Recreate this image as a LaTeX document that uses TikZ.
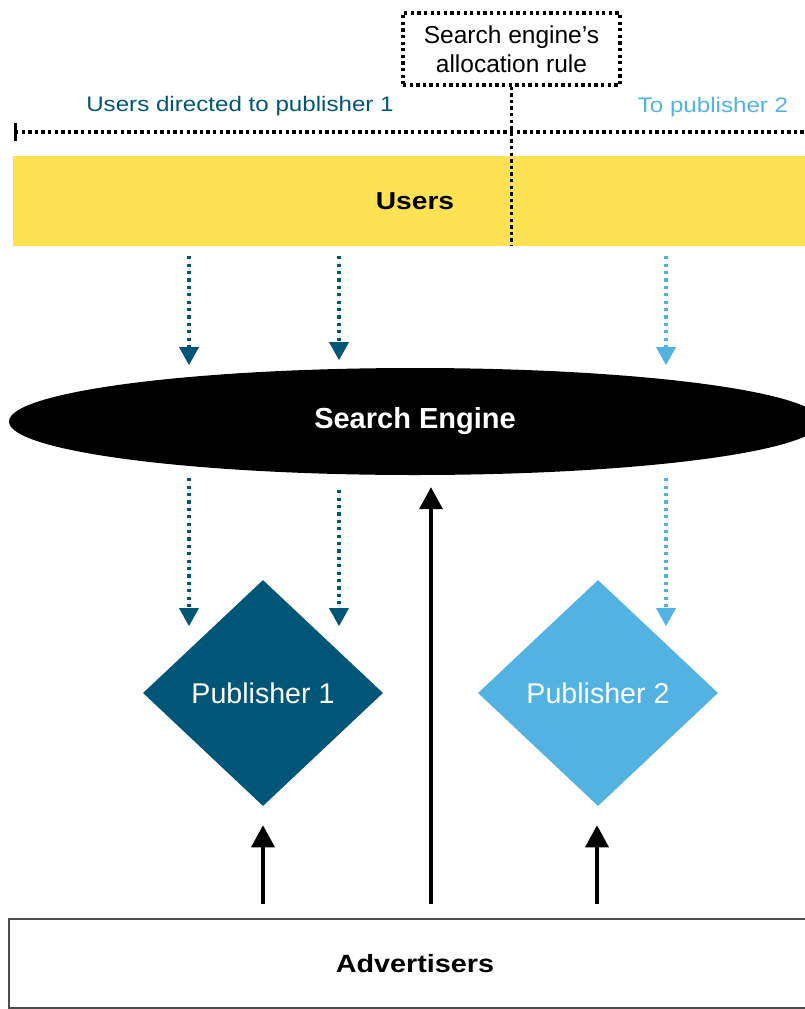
\documentclass[tikz,border=0pt]{standalone}
\usepackage{fontspec}
\setmainfont{Liberation Sans}
\newfontfamily\widefont{Liberation Sans}[FakeStretch=1.15]
\usetikzlibrary{shapes.geometric,arrows.meta}
\definecolor{pubone}{HTML}{005677}
\definecolor{pubtwo}{HTML}{52B3E2}
\definecolor{usersyellow}{HTML}{FFE254}
\begin{document}
\begin{tikzpicture}[x=1pt,y=-1pt,
  blackdot/.style={line width=3.3pt, dash pattern=on 3.3pt off 3.3pt},
  colordot/.style={line width=3.2pt, dash pattern=on 3.2pt off 4.2pt, -{Triangle[width=19pt,length=18pt]}},
  solidarrow/.style={line width=3.5pt, -{Triangle[width=23pt,length=22pt]}},
  pubshape/.style={diamond, minimum width=240pt, minimum height=226pt, inner sep=0pt, text=white, font=\fontsize{28.6}{32}\selectfont},
  bandbox/.style={rectangle, inner sep=0pt}
]
\useasboundingbox (0,0) rectangle (804,1009);

% allocation rule box
\node[draw, blackdot, minimum width=217pt, minimum height=72pt, inner sep=0pt, align=center,
      font=\fontsize{24.5}{29}\selectfont] (rule) at (511.5,49) {Search engine’s\\allocation rule};

% labels
\node[text=pubone, font=\widefont\fontsize{21}{24}\selectfont] (lab1) at (240,106) {Users directed to publisher 1};
\node[text=pubtwo, font=\widefont\fontsize{21}{24}\selectfont] (lab2) at (713,107) {To publisher 2};

% users band
\node[bandbox, fill=usersyellow, minimum width=804pt, minimum height=90pt,
      font=\widefont\bfseries\fontsize{24.5}{28}\selectfont] (users) at (415,201) {\raisebox{-3pt}{Users}};

% horizontal dotted line with tick
\coordinate (hl) at (15,132);
\draw[blackdot] (hl) -- (hl -| users.east);
\draw[line width=3pt] (hl) ++(0,-9) -- ++(0,18);

% vertical dotted line
\draw[blackdot] (rule.south) -- (users.south -| rule.south);

% search engine
\node[ellipse, fill=black, minimum width=812pt, minimum height=107pt, inner sep=0pt,
      text=white, font=\bfseries\fontsize{29}{32}\selectfont] (se) at (415,421.5) {\raisebox{-3pt}{Search Engine}};

% publishers
\node[pubshape, fill=pubone] (p1) at (263,693) {Publisher 1};
\node[pubshape, fill=pubtwo] (p2) at (598,693) {Publisher 2};

% advertisers
\node[bandbox, draw=black!70, line width=1.5pt, minimum width=812pt, minimum height=89pt,
      font=\widefont\bfseries\fontsize{25}{28}\selectfont] (adv) at (415,963.5) {\raisebox{-3pt}{Advertisers}};

% columns
\coordinate (c1) at (189,0);
\coordinate (c2) at (339,0);
\coordinate (c3) at (666,0);
\coordinate (c4) at (263,0);
\coordinate (c5) at (431,0);
\coordinate (c6) at (597,0);

% users -> search engine
\draw[colordot, draw=pubone, fill=pubone] (users.south -| c1) ++(0,10) -- ++(0,109);
\draw[colordot, draw=pubone, fill=pubone] (users.south -| c2) ++(0,10) -- ++(0,104);
\draw[colordot, draw=pubtwo, fill=pubtwo] (users.south -| c3) ++(0,10) -- ++(0,109);

% search engine -> publishers
\draw[colordot, draw=pubone, fill=pubone] (se.south -| c1) ++(0,3) -- ++(0,148);
\draw[colordot, draw=pubone, fill=pubone] (se.south -| c2) ++(0,15) -- ++(0,136);
\draw[colordot, draw=pubtwo, fill=pubtwo] (se.south -| c3) ++(0,3) -- ++(0,148);

% advertisers -> publishers / search engine
\draw[solidarrow] (adv.north -| c4) ++(0,-14) -- ++(0,-79);
\draw[solidarrow, shorten >=12pt] (adv.north -| c5) ++(0,-14) -- (se.south -| c5);
\draw[solidarrow] (adv.north -| c6) ++(0,-14) -- ++(0,-79);
\end{tikzpicture}
\end{document}
